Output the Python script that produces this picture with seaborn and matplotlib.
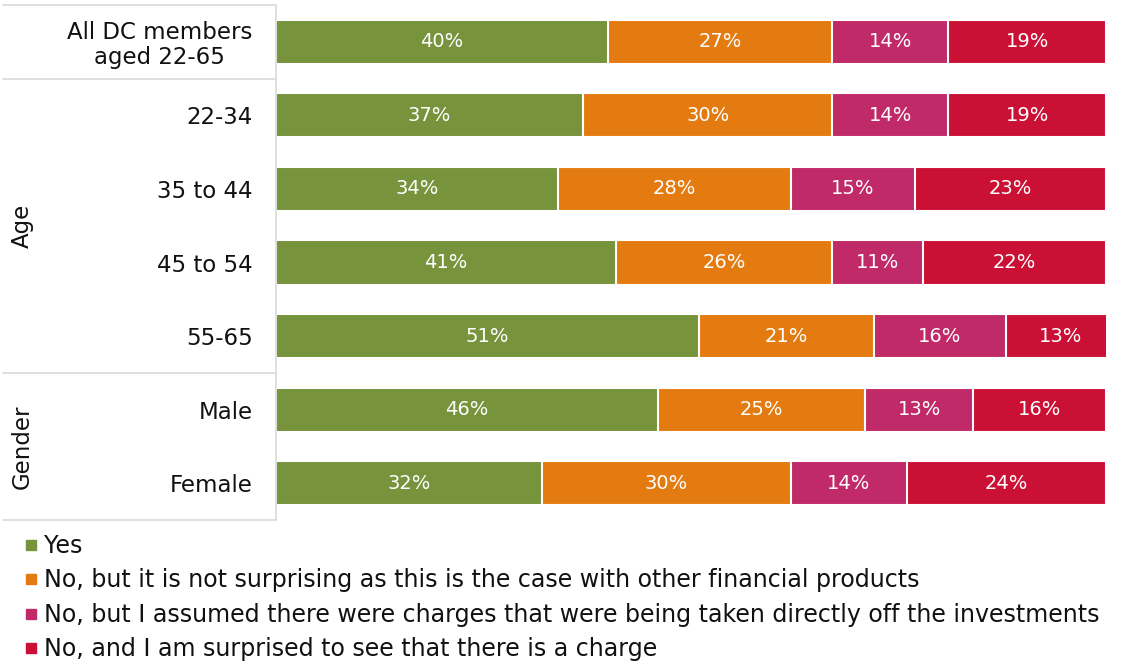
import matplotlib
matplotlib.use("Agg")
import matplotlib.pyplot as plt
from matplotlib.lines import Line2D
import numpy as np
import pandas as pd
import seaborn as sns

# Survey responses by group (percent)
groups = ["All DC members\naged 22-65", "22-34", "35 to 44", "45 to 54", "55-65", "Male", "Female"]
answers = [
    "Yes",
    "No, but it is not surprising as this is the case with other financial products",
    "No, but I assumed there were charges that were being taken directly off the investments",
    "No, and I am surprised to see that there is a charge",
]
yes = [40, 37, 34, 41, 51, 46, 32]
no_not_surprising = [27, 30, 28, 26, 21, 25, 30]
no_assumed = [14, 14, 15, 11, 16, 13, 14]
no_surprised = [19, 19, 23, 22, 13, 16, 24]
colors = ["#77933C", "#E47B10", "#C02A68", "#CB1035"]

sns.set_theme(style="white")
plt.rcParams["font.family"] = ["DejaVu Sans"]
plt.rcParams["text.color"] = "#111111"
plt.rcParams["ytick.color"] = "#111111"

series = [yes, no_not_surprising, no_assumed, no_surprised]
df = pd.DataFrame({"group": groups})
cum = np.zeros(len(groups))
for i, s in enumerate(series):
    cum = cum + np.array(s)
    df[f"cum{i}"] = cum

ax_left, ax_right = 0.2456, 0.984
fig = plt.figure(figsize=(11.24, 6.69), dpi=100)
ax = fig.add_axes([ax_left, 0.2227, ax_right - ax_left, 0.9925 - 0.2227])

# Draw cumulative layers from the outermost inwards so each segment shows
for i in range(len(series) - 1, -1, -1):
    sns.barplot(data=df, x=f"cum{i}", y="group", orient="h", color=colors[i],
                width=0.6, edgecolor="white", linewidth=1.5, saturation=1, ax=ax)

# Segment value labels
for i, s in enumerate(series):
    right = df[f"cum{i}"].values
    for r, v in enumerate(s):
        ax.text(right[r] - v / 2, r, f"{v}%", ha="center", va="center",
                color="white", fontsize=14)

ax.set_xlim(0, 100)
ax.set_ylim(6.5, -0.5)
ax.set_xlabel("")
ax.set_ylabel("")
ax.set_xticks([])
ax.tick_params(axis="y", length=0, pad=17, labelsize=16.5)
for lab in ax.get_yticklabels():
    lab.set_horizontalalignment("right")
    lab.set_multialignment("center")
    lab.set_linespacing(1.1)
for side in ["top", "right", "bottom"]:
    ax.spines[side].set_visible(False)
ax.spines["left"].set_color("#D9D9D9")
ax.spines["left"].set_linewidth(1.2)

# Row-group separators in the label area (figure-fraction x, data y)
trans = matplotlib.transforms.blended_transform_factory(fig.transFigure, ax.transData)
for yv in [-0.5, 0.5, 4.5, 6.5]:
    ax.add_line(Line2D([0.003, ax_left], [yv, yv], color="#D9D9D9", lw=1.2,
                       transform=trans, clip_on=False))

# Group titles
ax.text(0.02, 2.5, "Age", rotation=90, ha="center", va="center",
        fontsize=16.5, clip_on=False, transform=trans)
ax.text(0.02, 5.5, "Gender", rotation=90, ha="center", va="center",
        fontsize=16.5, clip_on=False, transform=trans)

handles = [Line2D([0], [0], marker="s", linestyle="none", markersize=6.5,
                  markerfacecolor=c, markeredgecolor=c) for c in colors]
fig.legend(handles, answers, loc="upper left", bbox_to_anchor=(0.014, 0.216),
           frameon=False, fontsize=17.1, handlelength=0.5, handletextpad=0.3,
           labelspacing=0.44, borderaxespad=0)

fig.savefig("out.png", dpi=100)
